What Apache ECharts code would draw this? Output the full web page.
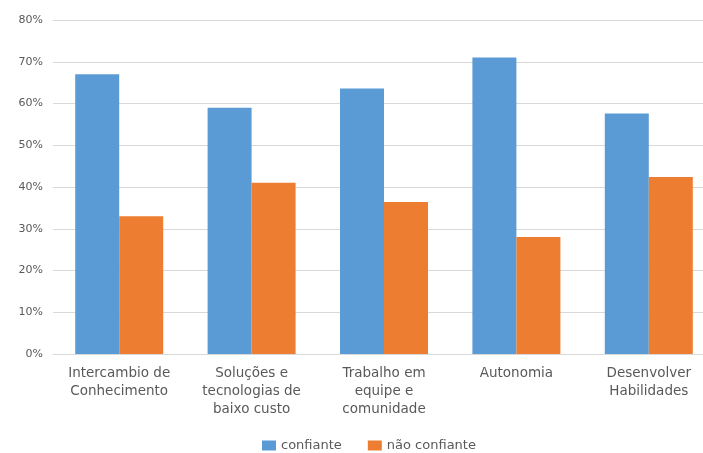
<!DOCTYPE html>
<html>
<head>
<meta charset="utf-8">
<script src="https://cdn.jsdelivr.net/npm/echarts@6/dist/echarts.min.js"></script>
<style>
  html, body { margin: 0; padding: 0; background: #fff; }
  #chart { width: 703px; height: 453px; }
</style>
</head>
<body>
<div id="chart"></div>
<script>
// Category labels (line breaks as wrapped under each bar pair)
const categories = [
  'Intercambio de\nConhecimento',
  'Soluções e\ntecnologias de\nbaixo custo',
  'Trabalho em\nequipe e\ncomunidade',
  'Autonomia',
  'Desenvolver\nHabilidades'
];
const seriesNames = ['confiante', 'não confiante'];
const confiante = [0.67, 0.59, 0.636, 0.71, 0.576];
const naoConfiante = [0.33, 0.41, 0.364, 0.28, 0.424];
const yTicks = { min: 0, max: 0.8, interval: 0.1 };

const textColor = '#595959';
const font = 'DejaVu Sans';

const chart = echarts.init(document.getElementById('chart'), null, { renderer: 'canvas' });
chart.setOption({
  animation: false,
  textStyle: { fontFamily: font },
  grid: {
    left: 53, top: 20, width: 662, height: 334,
    containLabel: false, outerBoundsMode: 'none'
  },
  legend: {
    data: seriesNames,
    top: 439,
    left: 262,
    padding: 0,
    itemWidth: 14,
    itemHeight: 10,
    itemGap: 26,
    icon: 'rect',
    textStyle: { color: textColor, fontSize: 13, fontFamily: font }
  },
  xAxis: {
    type: 'category',
    data: categories,
    axisLine: { lineStyle: { color: '#D9D9D9' } },
    axisTick: { show: false },
    axisLabel: {
      color: textColor, fontSize: 13.5, lineHeight: 18, margin: 10,
      interval: 0, fontFamily: font
    }
  },
  yAxis: {
    type: 'value',
    min: yTicks.min, max: yTicks.max, interval: yTicks.interval,
    axisLine: { show: false },
    axisTick: { show: false },
    splitLine: { lineStyle: { color: '#D9D9D9', width: 1 } },
    axisLabel: {
      color: textColor, fontSize: 11, margin: 10, fontFamily: font,
      formatter: v => Math.round(v * 100) + '%'
    }
  },
  series: [
    {
      name: seriesNames[0], type: 'bar', data: confiante,
      barWidth: 44, barGap: '0%',
      itemStyle: { color: '#5B9BD5' }
    },
    {
      name: seriesNames[1], type: 'bar', data: naoConfiante,
      barWidth: 44, barGap: '0%',
      itemStyle: { color: '#ED7D31' }
    }
  ]
});
</script>
</body>
</html>
